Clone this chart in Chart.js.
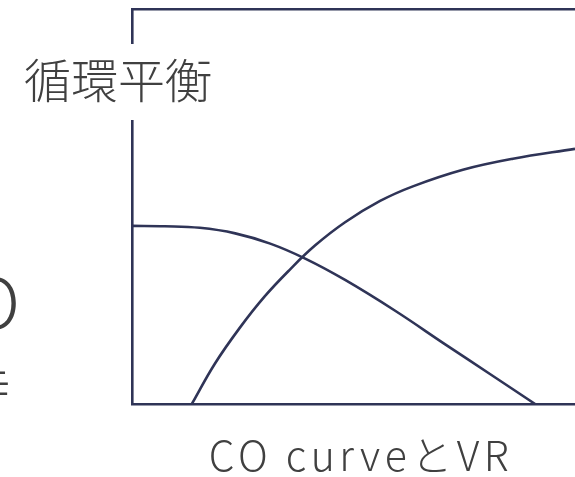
<!DOCTYPE html>
<html>
<head>
<meta charset="utf-8">
<script src="https://cdn.jsdelivr.net/npm/chart.js@4/dist/chart.umd.min.js"></script>
<style>
html,body{margin:0;padding:0;background:#ffffff;}
#wrap{position:relative;width:575px;height:477px;}
</style>
</head>
<body>
<div id="wrap"><canvas id="c" width="575" height="477"></canvas></div>
<script>
// Curve values (x: 0-100 along horizontal axis, y: 0-100 along vertical axis)
const coX = [0, 7.4, 15.3, 23.3, 31.2, 39.1, 48.1, 59.4, 70.7, 80.8, 91.0];
const coY = [45.1, 45.0, 44.6, 43.2, 40.6, 36.8, 31.4, 23.6, 15.1, 7.6, 0];
const vrX = [13.5, 18.7, 24.4, 30.0, 35.7, 41.3, 48.1, 56.0, 63.4, 74.7, 86.0, 100];
const vrY = [0, 10.2, 19.4, 27.3, 34.1, 40.1, 46.0, 51.4, 55.1, 59.3, 62.1, 64.6];
const titleText = '循環平衡';
const xTitleText = 'CO curveとVR';
const sideText1 = 'CO';
const sideText2 = '時';

const LINE = '#2f3457';
const TEXT = '#404040';
const JP = '"Noto Sans CJK JP", "Noto Sans", sans-serif';

const toPts = (xs, ys) => xs.map((x, i) => ({x: x, y: ys[i]}));

const textPlugin = {
  id: 'texts',
  afterDraw(chart) {
    const ctx = chart.ctx;
    ctx.save();
    // white box behind the title, interrupting the axis line
    ctx.fillStyle = '#ffffff';
    ctx.fillRect(20, 44, 200, 76);
    ctx.fillStyle = TEXT;
    ctx.textBaseline = 'alphabetic';
    // title
    ctx.textAlign = 'left';
    ctx.font = '300 47px ' + JP;
    ctx.fillText(titleText, 24, 98);
    // bottom label
    ctx.textAlign = 'center';
    ctx.font = '300 41px ' + JP;
    ctx.letterSpacing = '4.5px';
    ctx.fillText(xTitleText, 361, 471);
    ctx.letterSpacing = '0px';
    // cut-off side texts
    ctx.textAlign = 'right';
    ctx.font = '300 70px ' + JP;
    ctx.fillText(sideText1, 20, 329);
    ctx.font = '300 56px ' + JP;
    ctx.fillText(sideText2, 10, 411);
    ctx.restore();
  }
};

new Chart(document.getElementById('c'), {
  type: 'line',
  data: {
    datasets: [
      {label: 'CO curve', data: toPts(coX, coY), borderColor: LINE, borderWidth: 2.6,
       pointRadius: 0, tension: 0.4, fill: false},
      {label: 'VR', data: toPts(vrX, vrY), borderColor: LINE, borderWidth: 2.6,
       pointRadius: 0, tension: 0.4, fill: false}
    ]
  },
  options: {
    responsive: false,
    animation: false,
    layout: {padding: {left: 132, top: 9, right: 0, bottom: 0}},
    plugins: {legend: {display: false}, tooltip: {enabled: false}, title: {display: false}},
    scales: {
      x: {type: 'linear', position: 'bottom', min: 0, max: 100,
          grid: {display: false}, ticks: {display: false},
          border: {display: true, color: LINE, width: 2.6},
          afterFit(s) { s.height = 73; }},
      x2: {type: 'linear', position: 'top', min: 0, max: 100,
          grid: {display: false}, ticks: {display: false},
          border: {display: true, color: LINE, width: 2.6},
          afterFit(s) { s.height = 0; }},
      y: {type: 'linear', position: 'left', min: 0, max: 100,
          grid: {display: false}, ticks: {display: false},
          border: {display: true, color: LINE, width: 2.6},
          afterFit(s) { s.width = 0; }}
    }
  },
  plugins: [textPlugin]
});
</script>
</body>
</html>
